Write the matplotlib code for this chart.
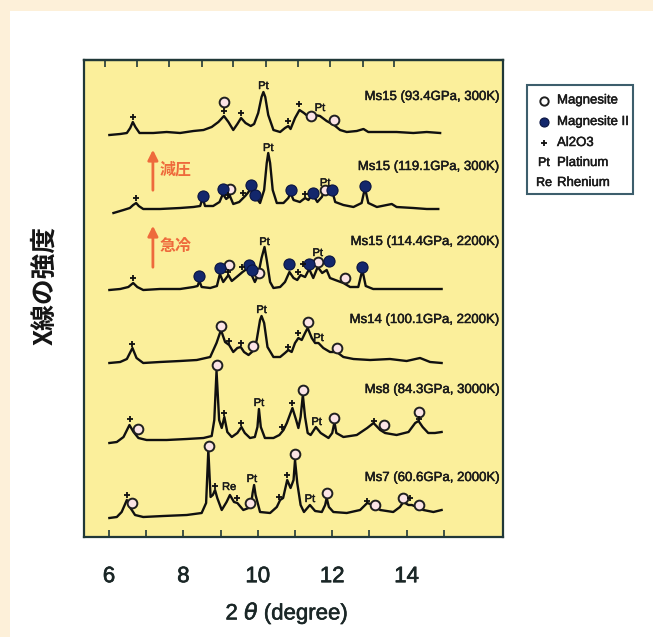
import matplotlib.pyplot as plt
import matplotlib.patheffects as pe
from matplotlib.patches import Rectangle

plt.rcParams['font.family'] = ['Liberation Sans', 'DejaVu Sans']

# XRD patterns, 2theta (deg) vs stacked intensity (arb. units)
ms15_93_x = [6.01, 6.30, 6.48, 6.57, 6.64, 6.71, 6.82, 7.19, 7.55, 7.91, 8.27, 8.54, 8.76, 8.94, 9.09,
             9.21, 9.34, 9.45, 9.55, 9.67, 9.81, 9.90, 10.01, 10.10, 10.15, 10.20, 10.28, 10.42, 10.60,
             10.73, 10.82, 10.88, 11.00, 11.12, 11.24, 11.40, 11.54, 11.67, 11.85, 12.05, 12.21, 12.39,
             12.66, 12.84, 12.97, 13.28, 13.73, 14.18, 14.54, 14.90]
ms15_93_y = [402, 403, 404, 409, 415, 410, 404, 404, 405, 404, 406, 407, 410, 415, 421,
             415, 407, 413, 419, 414, 411, 413, 424, 440, 445, 440, 422, 407, 405,
             409, 411, 408, 419, 427, 424, 419, 422, 421, 416, 412, 407, 405,
             406, 408, 405, 405, 405, 404, 405, 404]

ms15_119_x = [6.12, 6.39, 6.56, 6.65, 6.73, 6.80, 6.92, 7.37, 7.91, 8.27, 8.45, 8.52, 8.58, 8.80, 8.97,
              9.06, 9.15, 9.25, 9.34, 9.50, 9.66, 9.75, 9.81, 9.88, 9.94, 10.06, 10.17, 10.24, 10.28,
              10.33, 10.40, 10.51, 10.69, 10.82, 10.88, 10.96, 11.13, 11.27, 11.36, 11.47, 11.60, 11.72,
              11.81, 11.92, 12.00, 12.08, 12.30, 12.57, 12.79, 12.88, 12.97, 13.20, 13.60, 13.73, 14.18,
              14.54, 14.85]
ms15_119_y = [324, 327, 329, 332, 334, 331, 328, 328, 329, 330, 331, 339, 331, 331, 335,
              343, 338, 341, 333, 335, 341, 345, 349, 340, 340, 334, 347, 374, 384,
              374, 347, 334, 334, 339, 344, 337, 335, 339, 337, 343, 335, 340,
              347, 344, 346, 335, 332, 330, 334, 349, 334, 330, 333, 330, 329,
              328, 328]

ms15_114_x = [6.01, 6.30, 6.52, 6.65, 6.76, 6.92, 7.37, 7.91, 8.27, 8.38, 8.43, 8.49, 8.72, 8.90, 8.98,
              9.07, 9.21, 9.30, 9.43, 9.59, 9.70, 9.81, 9.92, 10.01, 10.10, 10.18, 10.24, 10.33, 10.42,
              10.60, 10.73, 10.85, 10.96, 11.06, 11.15, 11.27, 11.38, 11.49, 11.61, 11.73, 11.85, 11.94,
              12.08, 12.30, 12.48, 12.70, 12.81, 12.90, 13.10, 13.55, 14.00, 14.45, 14.94]
ms15_114_y = [247, 248, 250, 254, 250, 247, 248, 248, 250, 251, 256, 250, 249, 251, 263,
              255, 262, 256, 260, 265, 268, 264, 255, 262, 279, 290, 277, 255, 249,
              250, 255, 265, 259, 257, 262, 260, 268, 259, 270, 264, 267, 259,
              257, 254, 250, 250, 267, 251, 248, 248, 248, 248, 248]

ms14_x = [6.01, 6.30, 6.48, 6.63, 6.74, 6.92, 7.37, 7.91, 8.36, 8.72, 8.89, 9.01, 9.12, 9.23, 9.34,
          9.45, 9.54, 9.63, 9.75, 9.84, 9.90, 9.97, 10.06, 10.10, 10.17, 10.26, 10.42, 10.60, 10.73,
          10.82, 10.91, 11.00, 11.09, 11.18, 11.27, 11.34, 11.45, 11.54, 11.63, 11.76, 11.94, 12.12,
          12.30, 12.57, 13.02, 13.55, 14.00, 14.36, 14.63, 14.94]
ms14_y = [174, 175, 178, 189, 179, 174, 175, 176, 177, 180, 194, 207, 195, 192, 185,
          189, 190, 185, 182, 185, 187, 197, 217, 221, 214, 190, 180, 180, 184,
          187, 185, 194, 199, 197, 204, 209, 199, 194, 194, 189, 185, 185,
          180, 178, 177, 178, 176, 179, 175, 174]

ms8_x = [6.01, 6.21, 6.39, 6.55, 6.66, 6.79, 7.01, 7.55, 8.09, 8.54, 8.76, 8.83, 8.89, 8.96, 9.03,
         9.10, 9.18, 9.30, 9.45, 9.56, 9.65, 9.79, 9.92, 9.99, 10.03, 10.08, 10.19, 10.42, 10.58,
         10.69, 10.78, 10.93, 11.03, 11.09, 11.15, 11.21, 11.27, 11.34, 11.42, 11.56, 11.69, 11.90,
         12.00, 12.06, 12.11, 12.30, 12.66, 12.94, 13.11, 13.29, 13.42, 13.73, 14.05, 14.23, 14.32,
         14.43, 14.58, 14.76, 14.94]
ms8_y = [94, 95, 100, 112, 105, 99, 97, 97, 98, 99, 101, 117, 166, 117, 109,
         120, 105, 100, 104, 110, 104, 99, 100, 110, 128, 110, 99, 99, 102,
         107, 114, 129, 117, 109, 120, 142, 120, 104, 102, 110, 104, 99,
         104, 115, 104, 100, 102, 109, 114, 107, 104, 102, 105, 114, 116,
         110, 104, 104, 105]

ms7_x = [6.01, 6.21, 6.34, 6.48, 6.56, 6.70, 6.92, 7.46, 8.09, 8.49, 8.61, 8.67, 8.73, 8.79, 8.85,
         8.91, 9.03, 9.16, 9.25, 9.36, 9.45, 9.61, 9.75, 9.81, 9.86, 9.90, 9.94, 10.06, 10.33,
         10.51, 10.60, 10.68, 10.79, 10.88, 10.96, 11.00, 11.06, 11.15, 11.24, 11.40, 11.54, 11.72,
         11.81, 11.85, 11.91, 12.03, 12.39, 12.75, 12.94, 13.11, 13.29, 13.64, 13.82, 13.91, 14.05,
         14.14, 14.27, 14.45, 14.72, 14.94]
ms7_y = [19, 20, 25, 37, 30, 22, 20, 21, 22, 24, 34, 87, 40, 42, 47,
         39, 27, 35, 42, 35, 34, 27, 29, 30, 44, 52, 42, 25, 24,
         30, 37, 39, 57, 49, 57, 77, 54, 32, 25, 32, 26, 25,
         32, 39, 30, 25, 24, 27, 34, 32, 27, 25, 30, 35, 32,
         32, 30, 27, 25, 27]

trace_names = ['Ms15 (93.4GPa, 300K)', 'Ms15 (119.1GPa, 300K)', 'Ms15 (114.4GPa, 2200K)',
               'Ms14 (100.1GPa, 2200K)', 'Ms8 (84.3GPa, 3000K)', 'Ms7 (60.6GPa, 2000K)']
name_y = [440, 370, 295, 217, 147, 59]

# phase markers (all traces)
magnesite_x = [9.09, 11.43, 12.05, 9.25, 11.81, 9.22, 10.03, 11.61, 12.33, 9.01, 9.88, 11.34, 12.12,
               8.89, 6.77, 11.22, 12.06, 13.40, 14.32, 6.63, 8.70, 9.79, 11.00, 11.85, 13.15, 13.89, 14.32]
magnesite_y = [435, 421, 417, 348, 347, 272, 264, 275, 259, 211, 191, 215, 189,
               172, 108, 147, 119, 112, 125, 34, 91, 34, 83, 44, 32, 39, 32]
magnesite2_x = [8.52, 9.06, 9.81, 9.92, 10.88, 11.47, 12.00, 12.88,
                8.43, 8.98, 9.75, 9.84, 10.85, 11.38, 11.90, 12.81]
magnesite2_y = [341, 348, 352, 342, 347, 344, 347, 351,
                261, 269, 272, 267, 273, 273, 276, 270]
al2o3_x = [6.64, 9.09, 9.55, 10.82, 11.12, 6.73, 9.19, 9.61, 11.27, 6.65, 9.19, 9.57, 11.09, 11.21,
           6.63, 9.23, 9.54, 10.82, 11.09, 6.56, 9.10, 9.56, 10.64, 10.93, 13.11, 14.32,
           6.48, 8.85, 9.43, 10.57, 10.79, 12.94, 14.09]
al2o3_y = [420, 426, 424, 416, 433, 339, 342, 344, 343, 259, 265, 270, 265, 273,
           193, 196, 194, 190, 204, 118, 124, 114, 110, 134, 116, 118,
           42, 51, 39, 40, 62, 36, 39]
pt_x = [10.15, 11.67, 10.28, 11.81, 10.18, 11.61, 10.10, 11.63, 10.03, 11.58, 9.84, 11.40]
pt_y = [451, 429, 389, 354, 295, 284, 227, 199, 134, 115, 58, 38]
re_x = [9.23]
re_y = [50]

legend_labels = ['Magnesite', 'Magnesite II', 'Al2O3', 'Platinum', 'Rhenium']

W, H = 653, 637
spine_c = '#203838'
ink = '#1a1a1a'
heavy = [pe.withStroke(linewidth=0.35, foreground=ink)]

fig = plt.figure(figsize=(W / 100, H / 100), dpi=100, facecolor='#fdf0d9')
fig.patches.append(Rectangle((10 / W, 0), 1, (H - 11) / H, transform=fig.transFigure,
                             facecolor='white', edgecolor='none', zorder=-10))

ax = fig.add_axes([84 / W, (H - 537) / H, 419 / W, 477 / H])
ax.set_facecolor('#fbef9b')
ax.set_xlim(5.328, 16.59)
ax.set_ylim(0, 477)

for xs, ys in [(ms15_93_x, ms15_93_y), (ms15_119_x, ms15_119_y), (ms15_114_x, ms15_114_y),
               (ms14_x, ms14_y), (ms8_x, ms8_y), (ms7_x, ms7_y)]:
    ax.plot(xs, ys, color='#101010', lw=1.7, solid_joinstyle='round', zorder=2)

ax.plot(magnesite_x, magnesite_y, 'o', ms=7, mfc='#fbe4e6', mec='#202020', mew=1.4, zorder=4)
ax.plot(magnesite2_x, magnesite2_y, 'o', ms=8, mfc='#13276c', mec='#0a1440', mew=0.8, zorder=4)
ax.plot(al2o3_x, al2o3_y, '+', ms=4.5, mec='#101010', mew=1.3, zorder=4)
for x, y in zip(pt_x, pt_y):
    ax.text(x, y, 'Pt', ha='center', va='center', fontsize=8, color=ink, zorder=5,
            path_effects=heavy)
for x, y in zip(re_x, re_y):
    ax.text(x, y, 'Re', ha='center', va='center', fontsize=8, color=ink, zorder=5,
            path_effects=heavy)

tr = ax.get_yaxis_transform()
for name, y in zip(trace_names, name_y):
    ax.text(0.993, y, name, transform=tr, ha='right', va='center', fontsize=9.5, color=ink,
            path_effects=heavy)

# red arrows and notes
red = '#ee6a3c'
for y0, y1, note in [(344, 390, '減圧'), (267, 314, '急冷')]:
    ax.annotate('', xy=(7.18, y1), xytext=(7.18, y0),
                arrowprops=dict(arrowstyle='-|>,head_width=0.3,head_length=0.6', color=red, lw=2))
    ax.text(7.35, (y0 + y1) / 2, note, fontsize=11.5, color=red, ha='left', va='center',
            fontweight='bold', family=['Noto Sans CJK JP', 'DejaVu Sans'])

# axes styling
for s in ax.spines.values():
    s.set_color(spine_c)
    s.set_linewidth(1.6)
ax.set_xticks([6, 8, 10, 12, 14])
ax.set_xticks([7, 9, 11, 13, 15], minor=True)
ax.tick_params(axis='x', which='both', direction='in', length=5, width=1.2, color=spine_c,
               labelsize=16, labelcolor='#1a2626', pad=21)
for lab in ax.get_xticklabels():
    lab.set_path_effects([pe.withStroke(linewidth=0.5, foreground='#1a2626')])
ax.set_yticks([])

top_ticks = [5.892, 6.755, 7.617, 8.507, 9.342, 10.232, 11.067, 11.930, 12.819, 13.655]
sec = ax.secondary_xaxis('top')
sec.set_xticks(top_ticks, labels=[])
sec.tick_params(direction='in', length=5, width=1.2, color=spine_c)
sec.spines['top'].set_color(spine_c)
sec.spines['top'].set_linewidth(1.6)

fig.text(287 / W, 1 - 614 / H, r'2 $\theta$ (degree)', ha='center', va='center',
         fontsize=16, color='#1a2626', path_effects=[pe.withStroke(linewidth=0.4, foreground='#1a2626')])
fig.text(45 / W, 1 - 285 / H, 'X線の強度', rotation=90, ha='center', va='center',
         fontsize=18.5, fontweight='bold', color='#151515',
         family=['Noto Sans CJK JP', 'DejaVu Sans'])

# legend box
fig.patches.append(Rectangle((527 / W, 1 - 194 / H), 106 / W, 109 / H, transform=fig.transFigure,
                             facecolor='white', edgecolor='#3d5e6c', lw=1.5))
leg_y = [100.5, 122, 143, 163, 183]
fig.lines.append(plt.Line2D([544 / W], [1 - leg_y[0] / H], marker='o', ms=6, mfc='white',
                            mec='#202020', mew=1.4, transform=fig.transFigure))
fig.lines.append(plt.Line2D([544 / W], [1 - leg_y[1] / H], marker='o', ms=6.5, mfc='#13276c',
                            mec='#0a1440', mew=0.8, transform=fig.transFigure))
fig.lines.append(plt.Line2D([544 / W], [1 - leg_y[2] / H], marker='+', ms=5, mec='#101010',
                            mew=1.3, transform=fig.transFigure))
fig.text(544 / W, 1 - leg_y[3] / H, 'Pt', ha='center', va='center', fontsize=9, color=ink,
         path_effects=heavy)
fig.text(544 / W, 1 - leg_y[4] / H, 'Re', ha='center', va='center', fontsize=9, color=ink,
         path_effects=heavy)
for lab, y in zip(legend_labels, leg_y):
    fig.text(557 / W, 1 - y / H, lab, ha='left', va='center', fontsize=9.5, color=ink,
             path_effects=heavy)

fig.savefig('out.png', dpi=100, facecolor=fig.get_facecolor())
